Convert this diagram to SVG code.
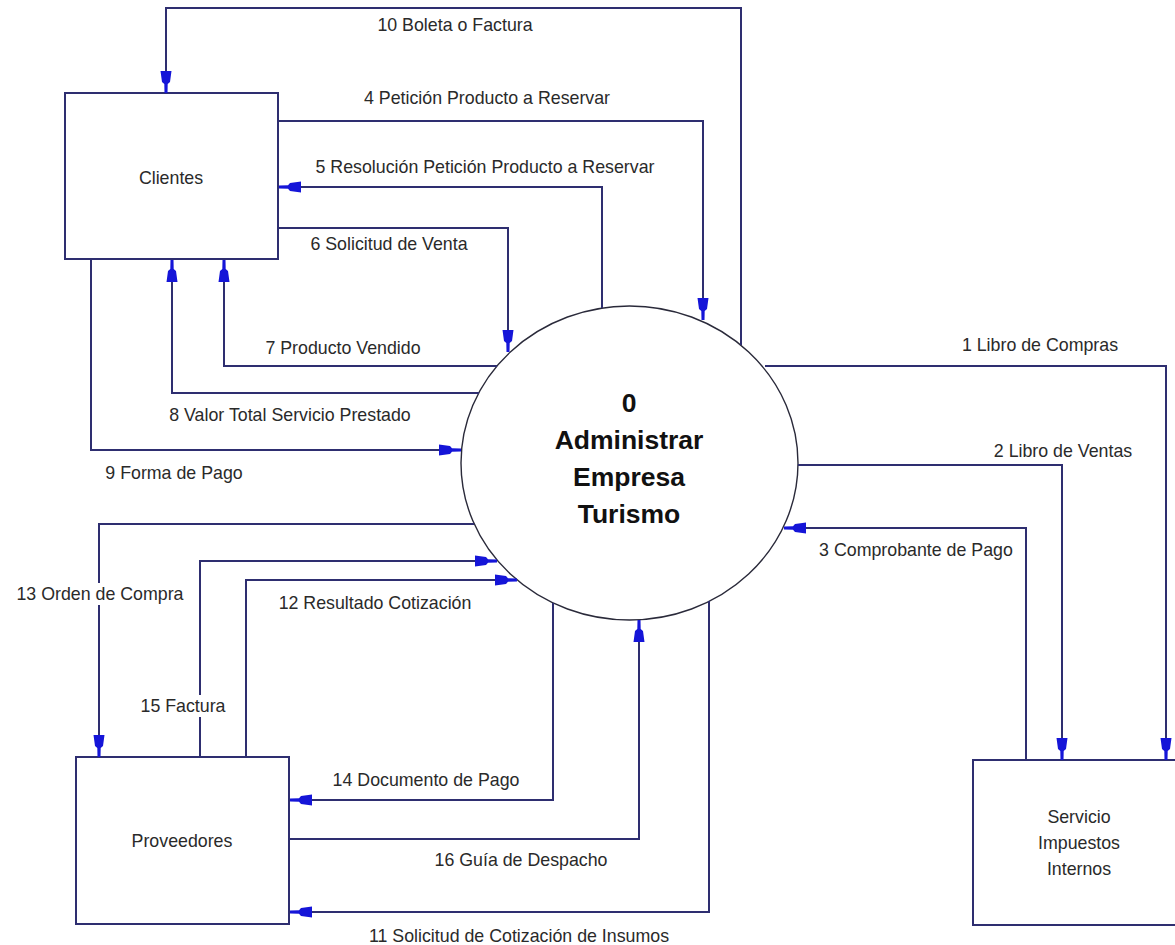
<svg xmlns="http://www.w3.org/2000/svg" width="1175" height="945" viewBox="0 0 1175 945">
  <style>
    .box { fill: #ffffff; stroke: #2e2e70; stroke-width: 2; }
    .proc { fill: #ffffff; stroke: #2a2a3a; stroke-width: 1.4; }
    .flow { fill: none; stroke: #2e2e70; stroke-width: 2; marker-end: url(#arrow); }
    .lbl { font-family: "Liberation Sans", Arial, sans-serif; font-size: 17.8px; fill: #2a2a2a; text-anchor: middle; }
    .title { font-family: "Liberation Sans", Arial, sans-serif; font-size: 26.5px; font-weight: bold; fill: #111111; text-anchor: middle; }
    .bg { fill: #ffffff; }
  </style>
  <defs>
    <marker id="arrow" markerWidth="24" markerHeight="14" refX="22" refY="0" viewBox="0 -7 24 14" orient="auto" markerUnits="userSpaceOnUse">
      <path d="M0,-5.5 L11,-4 L13,-1.7 L22,-1.5 L22,1.5 L13,1.7 L11,4 L0,5.5 Z" fill="#1515d8"/>
    </marker>
  </defs>

  <rect x="0" y="0" width="1175" height="945" fill="#ffffff"/>

  <!-- external entities and the central process -->
  <g id="clientes">
    <rect class="box" x="65" y="93" width="213" height="166"/>
    <text class="lbl" x="171" y="183.5">Clientes</text>
  </g>
  <g id="proveedores">
    <rect class="box" x="76" y="757" width="213" height="167"/>
    <text class="lbl" x="182" y="846.5">Proveedores</text>
  </g>
  <g id="sii">
    <rect class="box" x="973" y="760" width="213" height="165"/>
    <text class="lbl" x="1079" y="823">Servicio</text>
    <text class="lbl" x="1079" y="848.5">Impuestos</text>
    <text class="lbl" x="1079" y="874.5">Internos</text>
  </g>
  <g id="proceso-0">
    <ellipse class="proc" cx="629.5" cy="463" rx="168.5" ry="157"/>
    <text class="title" x="629" y="411.5">0</text>
    <text class="title" x="629" y="449">Administrar</text>
    <text class="title" x="629" y="486">Empresa</text>
    <text class="title" x="629" y="523">Turismo</text>
  </g>

  <!-- data flows -->
  <g id="flujos">
    <path class="flow" d="M765,366 H1166 V760"/>
    <path class="flow" d="M798,465 H1062 V760"/>
    <path class="flow" d="M1026,760 V528 H784"/>
    <path class="flow" d="M278,121 H703 V320"/>
    <path class="flow" d="M602,308 V187 H279"/>
    <path class="flow" d="M278,228 H508 V352"/>
    <path class="flow" d="M497,366 H224 V260"/>
    <path class="flow" d="M479,393 H172 V260"/>
    <path class="flow" d="M91,259 V450 H461"/>
    <path class="flow" d="M741,345 V8 H166 V93"/>
    <path class="flow" d="M709,601 V912 H290"/>
    <path class="flow" d="M246,757 V580 H517"/>
    <path class="flow" d="M474,524 H99 V757"/>
    <path class="flow" d="M553,603 V800 H290"/>
    <path class="flow" d="M200,757 V561 H497"/>
    <path class="flow" d="M289,839 H639 V620"/>

    <rect class="bg" x="15" y="583" width="172" height="22"/>
    <rect class="bg" x="139" y="695" width="88" height="22"/>

    <text class="lbl" x="1040" y="351">1 Libro de Compras</text>
    <text class="lbl" x="1063" y="457">2 Libro de Ventas</text>
    <text class="lbl" x="916" y="556">3 Comprobante de Pago</text>
    <text class="lbl" x="487" y="104">4 Petición Producto a Reservar</text>
    <text class="lbl" x="485" y="173">5 Resolución Petición Producto a Reservar</text>
    <text class="lbl" x="389" y="250">6 Solicitud de Venta</text>
    <text class="lbl" x="343" y="354">7 Producto Vendido</text>
    <text class="lbl" x="290" y="421">8 Valor Total Servicio Prestado</text>
    <text class="lbl" x="174" y="479">9 Forma de Pago</text>
    <text class="lbl" x="455" y="31">10 Boleta o Factura</text>
    <text class="lbl" x="519" y="942">11 Solicitud de Cotización de Insumos</text>
    <text class="lbl" x="375" y="609">12 Resultado Cotización</text>
    <text class="lbl" x="100" y="600">13 Orden de Compra</text>
    <text class="lbl" x="426" y="786">14 Documento de Pago</text>
    <text class="lbl" x="183" y="712">15 Factura</text>
    <text class="lbl" x="521" y="866">16 Guía de Despacho</text>
  </g>
</svg>
